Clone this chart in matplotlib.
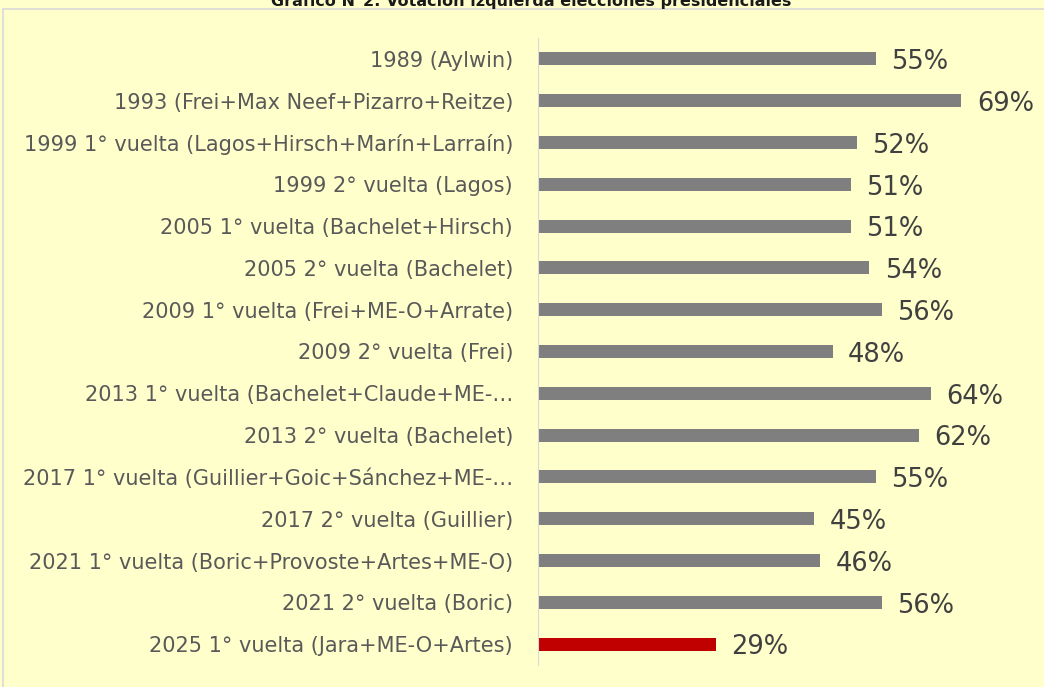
import matplotlib.pyplot as plt
from matplotlib.patches import Rectangle

# Data
labels = [
    "1989 (Aylwin)",
    "1993 (Frei+Max Neef+Pizarro+Reitze)",
    "1999 1° vuelta (Lagos+Hirsch+Marín+Larraín)",
    "1999 2° vuelta (Lagos)",
    "2005 1° vuelta (Bachelet+Hirsch)",
    "2005 2° vuelta (Bachelet)",
    "2009 1° vuelta (Frei+ME-O+Arrate)",
    "2009 2° vuelta (Frei)",
    "2013 1° vuelta (Bachelet+Claude+ME-…",
    "2013 2° vuelta (Bachelet)",
    "2017 1° vuelta (Guillier+Goic+Sánchez+ME-…",
    "2017 2° vuelta (Guillier)",
    "2021 1° vuelta (Boric+Provoste+Artes+ME-O)",
    "2021 2° vuelta (Boric)",
    "2025 1° vuelta (Jara+ME-O+Artes)",
]
values = [55, 69, 52, 51, 51, 54, 56, 48, 64, 62, 55, 45, 46, 56, 29]
colors = ["#7f7f7f"] * 14 + ["#c00000"]

bg = "#ffffcc"
plt.rcParams['font.family'] = ['DejaVu Sans']

fig = plt.figure(figsize=(10.44, 6.87), dpi=100)
fig.patch.set_facecolor(bg)

# outer border
fig.patches.append(Rectangle((3 / 1044, -0.1), 1.1, 1 - 9 / 687 + 0.1,
                             transform=fig.transFigure, fill=False,
                             edgecolor="#d9d9d9", linewidth=1.2))

fig.text(531 / 1044, 1 - 6 / 687, "Gráfico N°2: Votación izquierda elecciones presidenciales",
         ha="center", va="baseline", fontsize=11.5, fontweight="bold", color="#1a1a1a")

ax = fig.add_axes([538 / 1044, 1 - 665 / 687, 491 / 1044, 627 / 687])
ax.set_facecolor(bg)

y = list(range(len(labels)))
ax.barh(y, values, height=0.31, color=colors)
ax.set_xlim(0, 80)
ax.set_ylim(len(labels) - 0.5, -0.5)

for yi, v in zip(y, values):
    ax.text(v + 2.5, yi + 0.08, f"{v}%", va="center", ha="left",
            fontsize=18.5, color="#404040")

ax.set_yticks(y)
ax.set_yticklabels(labels, fontsize=15, color="#595959")
ax.tick_params(axis="y", length=0, pad=18)
ax.set_xticks([])
for s in ["top", "right", "bottom"]:
    ax.spines[s].set_visible(False)
ax.spines["left"].set_color("#d9d9d9")

plt.savefig("out.png", dpi=100, facecolor=bg)
